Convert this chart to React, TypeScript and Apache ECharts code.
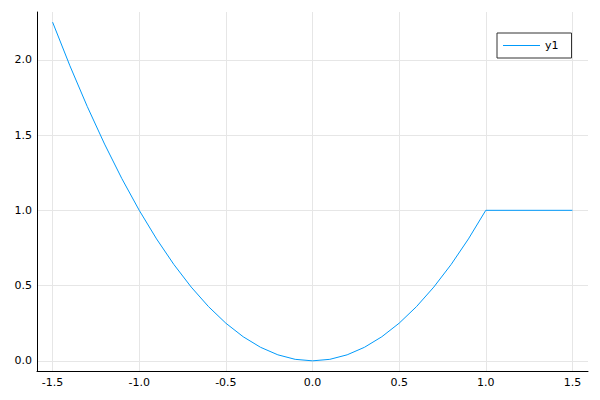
import React, { useEffect, useRef } from "react";
import * as echarts from "echarts";

const xValues = [-1.5, -1.4, -1.3, -1.2, -1.1, -1.0, -0.9, -0.8, -0.7, -0.6, -0.5, -0.4, -0.3, -0.2, -0.1, 0.0, 0.1, 0.2, 0.3, 0.4, 0.5, 0.6, 0.7, 0.8, 0.9, 1.0, 1.5];
const yValues = [2.25, 1.96, 1.69, 1.44, 1.21, 1.0, 0.81, 0.64, 0.49, 0.36, 0.25, 0.16, 0.09, 0.04, 0.01, 0.0, 0.01, 0.04, 0.09, 0.16, 0.25, 0.36, 0.49, 0.64, 0.81, 1.0, 1.0];
const xTicks = [-1.5, -1.0, -0.5, 0.0, 0.5, 1.0, 1.5];
const yTicks = [0.0, 0.5, 1.0, 1.5, 2.0];
const seriesName = "y1";

export default function App() {
  const ref = useRef<HTMLDivElement>(null);
  useEffect(() => {
    if (!ref.current) return;
    const chart = echarts.init(ref.current, null, { renderer: "svg" });
    const font = "DejaVu Sans";
    chart.setOption({
      animation: false,
      backgroundColor: "#ffffff",
      textStyle: { fontFamily: font },
      grid: { left: 37, right: 12, top: 12, bottom: 29 },
      legend: {
        left: 497,
        top: 33,
        orient: "vertical",
        data: [seriesName],
        icon: "rect",
        itemWidth: 37,
        itemHeight: 1,
        padding: [7, 13, 7, 6],
        borderColor: "#333333",
        borderWidth: 1,
        backgroundColor: "#ffffff",
        textStyle: { fontFamily: font, fontSize: 11, color: "#000000" },
      },
      xAxis: {
        type: "value",
        min: -1.59,
        max: 1.59,
        axisLine: { show: true, onZero: false, lineStyle: { color: "#000000", width: 1 } },
        axisTick: { show: false, customValues: xTicks },
        axisLabel: {
          customValues: xTicks,
          formatter: (v: number) => v.toFixed(1),
          color: "#000000",
          fontSize: 11,
          fontFamily: font,
          margin: 6,
        },
        splitLine: { show: true, lineStyle: { color: "#e6e6e6", width: 1 } },
      },
      yAxis: {
        type: "value",
        min: -0.0675,
        max: 2.3175,
        axisLine: { show: true, onZero: false, lineStyle: { color: "#000000", width: 1 } },
        axisTick: { show: false, customValues: yTicks },
        axisLabel: {
          customValues: yTicks,
          formatter: (v: number) => v.toFixed(1),
          color: "#000000",
          fontSize: 11,
          fontFamily: font,
          margin: 5,
        },
        splitLine: { show: true, lineStyle: { color: "#e6e6e6", width: 1 } },
      },
      series: [
        {
          name: seriesName,
          type: "line",
          data: xValues.map((x, i) => [x, yValues[i]]),
          showSymbol: false,
          symbol: "none",
          lineStyle: { color: "#009afa", width: 1 },
          itemStyle: { color: "#009afa" },
        },
      ],
    });
    return () => chart.dispose();
  }, []);
  return (
    <div
      ref={ref}
      style={{ position: "fixed", left: 0, top: 0, width: 600, height: 400 }}
    />
  );
}
